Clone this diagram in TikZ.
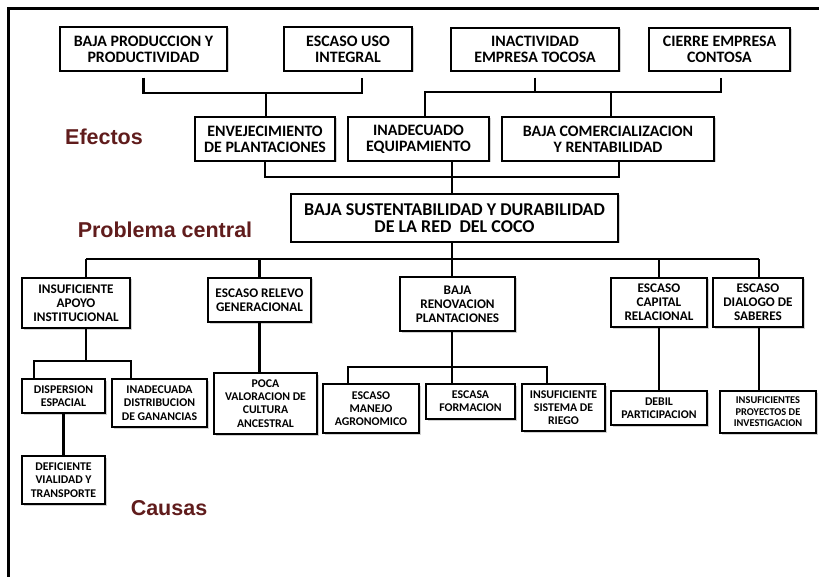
\documentclass[tikz,border=0pt]{standalone}
\usepackage{fontspec}
\setmainfont{Carlito}
\newfontfamily\labfont{Liberation Sans}
\usetikzlibrary{shadows}
\definecolor{labred}{RGB}{96,28,28}
\tikzset{
  box/.style={draw=black, line width=1.3pt, fill=white, inner sep=0pt, align=center,
    drop shadow={shadow xshift=1.5pt, shadow yshift=-1.5pt, opacity=0.35}},
  toprow/.style={box, font=\fontsize{15.9}{15.8}\selectfont\bfseries},
  central/.style={box, font=\fontsize{18}{17.5}\selectfont\bfseries},
  causeA/.style={box, font=\fontsize{13.2}{14}\selectfont\bfseries},
  causeB/.style={box, font=\fontsize{11.8}{13.3}\selectfont\bfseries},
  causeC/.style={box, font=\fontsize{10.4}{11.4}\selectfont\bfseries},
  conn/.style={line width=2.6pt},
  lab/.style={font=\labfont\bfseries\fontsize{21.5}{24}\selectfont, text=labred, inner sep=0pt}
}
\newcommand{\mybox}[7]{\node[#1, minimum width={#5-#3}, minimum height={#6-#4}] (#2) at ({(#3+#5)/2},{(#4+#6)/2}) {#7};}
\begin{document}
\begin{tikzpicture}[x=1pt,y=-1pt]
\useasboundingbox (0,0) rectangle (819,577);
\fill[white] (0,0) rectangle (819,577);
\draw[line width=3pt] (8,577) -- (8,9) -- (819,9);

% effects (top)
\mybox{toprow}{b1}{60}{27}{227}{71}{BAJA PRODUCCION Y\\PRODUCTIVIDAD}
\mybox{toprow}{b2}{284}{27}{412}{71}{ESCASO USO\\INTEGRAL}
\mybox{toprow}{b3}{451}{28}{619}{71}{INACTIVIDAD\\EMPRESA TOCOSA}
\mybox{toprow}{b4}{649}{28}{790}{71}{CIERRE EMPRESA\\CONTOSA}
\mybox{toprow}{e1}{195}{117}{335}{161}{ENVEJECIMIENTO\\DE PLANTACIONES}
\mybox{toprow}{e2}{348}{117}{489}{161}{INADECUADO\\EQUIPAMIENTO}
\mybox{toprow}{e3}{502}{117}{714}{161}{BAJA COMERCIALIZACION\\Y RENTABILIDAD}
% central
\mybox{central}{c}{291}{194}{618}{242}{BAJA SUSTENTABILIDAD Y DURABILIDAD\\DE LA RED \ DEL COCO}
% causes
\mybox{causeA}{k1}{22}{278}{130}{328}{INSUFICIENTE\\APOYO\\INSTITUCIONAL}
\mybox{causeA}{k2}{208}{278}{311}{322}{ESCASO RELEVO\\GENERACIONAL}
\mybox{causeA}{k3}{400}{277}{515}{331}{BAJA\\RENOVACION\\PLANTACIONES}
\mybox{causeA}{k4}{611}{278}{707}{327}{ESCASO\\CAPITAL\\RELACIONAL}
\mybox{causeA}{k5}{713}{278}{803}{327}{ESCASO\\DIALOGO DE\\SABERES}
\mybox{causeB}{d1}{22}{379}{105}{413}{DISPERSION\\ESPACIAL}
\mybox{causeB}{d2}{112}{379}{207}{427}{INADECUADA\\DISTRIBUCION\\DE GANANCIAS}
\mybox{causeB}{d3}{22}{456}{105}{504}{DEFICIENTE\\VIALIDAD Y\\TRANSPORTE}
\mybox{causeB}{d4}{214}{373}{317}{434}{POCA\\VALORACION DE\\CULTURA\\ANCESTRAL}
\mybox{causeB}{d5}{323}{384}{419}{433}{ESCASO\\MANEJO\\AGRONOMICO}
\mybox{causeB}{d6}{426}{384}{515}{419}{ESCASA\\FORMACION}
\mybox{causeB}{d7}{522}{384}{605}{431}{INSUFICIENTE\\SISTEMA DE\\RIEGO}
\mybox{causeB}{d8}{611}{391}{707}{425}{DEBIL\\PARTICIPACION}
\mybox{causeC}{d9}{720}{391}{816}{433}{INSUFICIENTES\\PROYECTOS DE\\INVESTIGACION}

% labels
\node[lab] (lef) at (104,137) {Efectos};
\node[lab] (lpc) at (165,230) {Problema central};
\node[lab] (lca) at (169,508) {Causas};

% connectors: top row to effects
\coordinate (ta) at (266,93);
\draw[conn] ([yshift=-6pt]b1.south) |- (ta) -| ([xshift=14pt,yshift=-6pt]b2.south);
\draw[conn] (ta) -- (ta |- e1.north);
\coordinate (tbL) at (425,92);
\coordinate (tbM) at (611,92);
\coordinate (tbR) at (721,92);
\draw[conn] (e2.north -| tbL) -- (tbL) -- (tbR) -- ([xshift=1.5pt,yshift=-6pt]b4.south);
\draw[conn] ([yshift=-6pt]b3.south) -- (b3.south |- tbL);
\draw[conn] (tbM) -- (e3.north -| tbM);
% effects to central
\coordinate (eb) at (452,177);
\draw[conn] (e1.south) |- (eb) -| ([xshift=11pt]e3.south);
\draw[conn] (e2.south -| eb) -- (c.north -| eb);
% central to causes
\coordinate (kbL) at (86,259);
\coordinate (kbR) at (759,259);
\draw[conn] (c.south -| eb) -- (eb |- kbL);
\draw[conn] (kbL) -- (kbR);
\draw[conn] (kbL) -- (k1.north -| kbL);
\draw[conn] (k2.north |- kbL) -- (k2.north);
\draw[conn] (eb |- kbL) -- (k3.north -| eb);
\draw[conn] (k4.north |- kbL) -- (k4.north);
\draw[conn] (kbR) -- (k5.north -| kbR);
% level 3
\coordinate (aL) at (34,361);
\coordinate (aM) at (86,361);
\coordinate (aR) at (131,361);
\draw[conn] (k1.south -| aM) -- (aM);
\draw[conn] (d1.north -| aL) -- (aL) -- (aR) -- (d2.north -| aR);
\draw[conn] (d1.south) -- (d3.north);
\draw[conn] (k2.south) -- (k2.south |- d4.north);
\coordinate (rL) at (348,367);
\coordinate (rR) at (547,367);
\draw[conn] (k3.south -| eb) -- (eb |- rL);
\draw[conn] (d5.north -| rL) -- (rL) -- (rR) -- (d7.north -| rR);
\draw[conn] (eb |- rL) -- (d6.north -| eb);
\draw[conn] (k4.south) -- (d8.north);
\draw[conn] (k5.south -| kbR) -- (d9.north -| kbR);
\end{tikzpicture}
\end{document}
